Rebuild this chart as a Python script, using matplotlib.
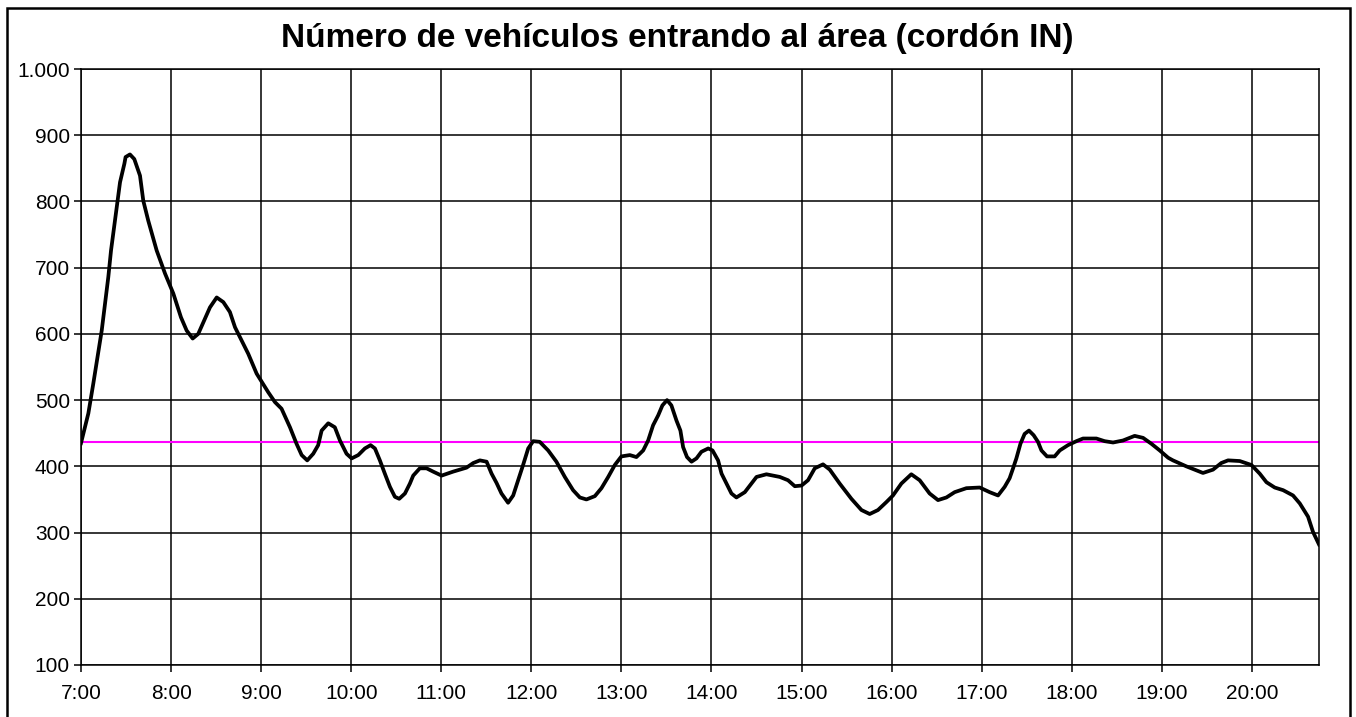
import matplotlib
matplotlib.use('Agg')
import matplotlib.pyplot as plt
from matplotlib.patches import Rectangle
from matplotlib.ticker import FixedLocator, FuncFormatter

plt.rcParams['font.family'] = ['Liberation Sans', 'DejaVu Sans']

# minutes after 7:00 and vehicles entering
minutes = [0, 4.9, 8.2, 13.8, 18.2, 20, 22.6, 26, 28.9, 29.7, 32.6, 35.5, 39.3, 41.5, 44.8, 50.4,
           56, 61.5, 66.6, 70.4, 74.4, 78.1, 82.6, 85.9, 90.4, 94.8, 99.2, 102.6, 111.4, 117,
           124.7, 129.2, 133.6, 139.2, 143.6, 147, 150.7, 154.7, 158, 160.3, 164.7, 169.1, 172.5,
           176.9, 180.3, 184.7, 189.1, 192.9, 195.8, 199.1, 202.4, 205.8, 209.1, 212, 215.8, 219.1,
           221.3, 225.7, 230.2, 234.6, 240.2, 247.9, 256.8, 261.3, 265.7, 270.2, 273.5, 276.8,
           280.1, 284.5, 287.9, 291.2, 294.5, 297.9, 301.2, 305.6, 311.2, 316.7, 322.3, 327.8,
           332.3, 336.7, 342.3, 346.7, 351.2, 355.6, 360, 365.6, 370, 374.5, 377.8, 381.1, 384.5,
           387.3, 390.4, 393.3, 396.7, 399.3, 401.1, 403.7, 406.7, 410, 413.3, 417.8, 420.7,
           424.4, 426.7, 430, 433.3, 436.6, 442.2, 450, 456.6, 465.5, 471, 475.5, 480, 484.3,
           488.8, 494.3, 498.8, 505.4, 513.2, 519.9, 525.4, 530.9, 536.5, 540.9, 546.5, 553.1,
           558.7, 565.3, 570.9, 576.5, 582, 589.8, 598.7, 605.3, 610.9, 615.3, 618.6, 620.9,
           623.1, 625.8, 628.6, 631.5, 634.6, 637.5, 639.8, 643.5, 648.6, 652, 657.5, 663.1,
           667.5, 676.4, 681.9, 687.5, 694.1, 701.9, 707.5, 713.1, 718.6, 724.2, 727.4, 736.3,
           747.4, 754.1, 759.6, 764.1, 771.9, 779.7, 785.2, 789.7, 795.2, 800.8, 807.4, 811.9,
           817.4, 820.7, 824.7]
vehicles = [435, 480, 525, 605, 686, 726, 771, 829, 857, 867, 871, 864, 839, 801, 771, 726,
            691, 661, 625, 605, 593, 600, 623, 640, 655, 648, 633, 610, 570, 540,
            512, 497, 487, 459, 434, 417, 409, 419, 432, 454, 465, 459, 439,
            419, 412, 417, 427, 432, 427, 409, 389, 369, 354, 351, 359, 374,
            386, 397, 397, 392, 386, 392, 398, 405, 409, 407, 389, 375,
            359, 345, 356, 379, 402, 427, 438, 437, 424, 407, 384, 364,
            353, 350, 355, 367, 384, 402, 415, 417, 414, 424, 439, 462, 477,
            492, 500, 492, 469, 454, 429, 414, 407, 412, 422, 427, 424,
            409, 389, 374, 359, 353, 361, 384, 388, 384, 379, 370, 371, 379,
            397, 403, 395, 374, 351, 334, 328, 334, 346, 356, 374, 388,
            379, 359, 349, 353, 361, 367, 368, 361, 356, 369, 382, 397,
            412, 434, 449, 454, 447, 437, 424, 415, 415, 424, 432, 438,
            442, 442, 438, 436, 439, 446, 443, 434, 424, 413, 409, 400,
            390, 395, 405, 409, 408, 402, 389, 376, 368, 364, 356, 344,
            324, 301, 282]

average = 436
hour_labels = ['7:00', '8:00', '9:00', '10:00', '11:00', '12:00', '13:00',
               '14:00', '15:00', '16:00', '17:00', '18:00', '19:00', '20:00']
y_ticks = [100, 200, 300, 400, 500, 600, 700, 800, 900, 1000]
title = 'Número de vehículos entrando al área (cordón IN)'

fig = plt.figure(figsize=(13.56, 7.17), dpi=100)
ax = fig.add_axes([81 / 1356, 52 / 717, 1238 / 1356, 596 / 717])

# frame round the whole chart (bottom edge runs off the picture)
fig.patches.append(Rectangle((7 / 1356, -4 / 717), 1343 / 1356, 713 / 717, transform=fig.transFigure,
                             fill=False, edgecolor='black', linewidth=1.8))

ax.plot(minutes, vehicles, color='black', linewidth=2.7, zorder=3)
ax.axhline(average, color='#ff00ff', linewidth=1.5, zorder=2)

ax.set_xlim(0, 824.7)
ax.set_ylim(100, 1000)

ax.xaxis.set_major_locator(FixedLocator([60 * i for i in range(len(hour_labels))]))
ax.set_xticklabels(hour_labels)
ax.yaxis.set_major_locator(FixedLocator(y_ticks))
ax.yaxis.set_major_formatter(FuncFormatter(lambda v, p: f'{int(v):,}'.replace(',', '.')))

ax.grid(True, color='black', linewidth=1.1)
ax.set_axisbelow(True)
for s in ax.spines.values():
  s.set_linewidth(1.1)
ax.tick_params(axis='both', direction='out', length=5, width=1.1, labelsize=15, colors='black')
ax.tick_params(axis='x', pad=9)
ax.tick_params(axis='y', pad=3)

fig.text(677 / 1356, 1 - 38 / 717, title, ha='center', va='center', fontsize=24, fontweight='bold')

fig.savefig('out.png', dpi=100)
